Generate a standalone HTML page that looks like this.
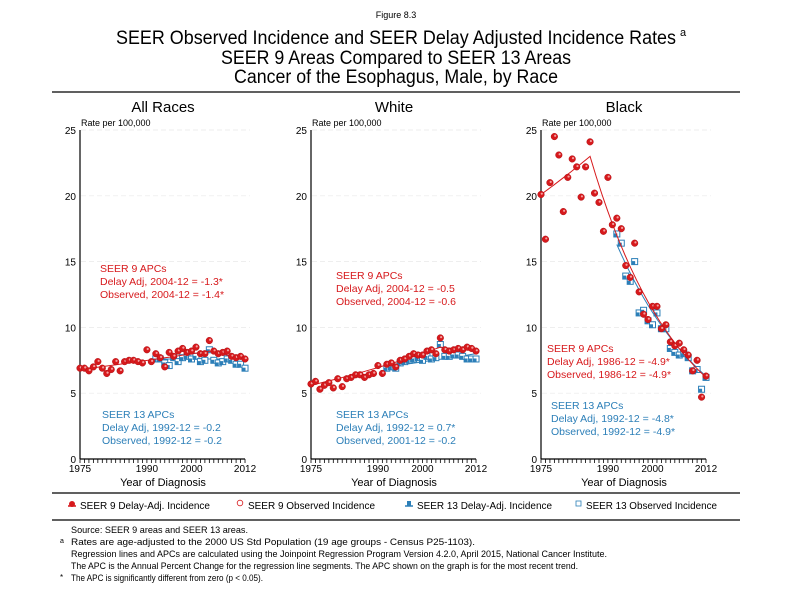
<!DOCTYPE html>
<html><head><meta charset="utf-8"><style>
body{margin:0;background:#fff}
svg{display:block;font-family:"Liberation Sans",Arial,sans-serif}
</style></head><body>
<svg id="s" width="792" height="612" viewBox="0 0 792 612" xmlns="http://www.w3.org/2000/svg">
<rect width="792" height="612" fill="#fff"/>
<text x="396" y="18" font-size="9" text-anchor="middle">Figure 8.3</text>
<text x="396" y="44" font-size="19" text-anchor="middle" textLength="560" lengthAdjust="spacingAndGlyphs">SEER Observed Incidence and SEER Delay Adjusted Incidence Rates</text>
<text x="680" y="36" font-size="11">a</text>
<text x="396" y="64" font-size="19" text-anchor="middle" textLength="350" lengthAdjust="spacingAndGlyphs">SEER 9 Areas Compared to SEER 13 Areas</text>
<text x="396" y="83" font-size="19" text-anchor="middle" textLength="324" lengthAdjust="spacingAndGlyphs">Cancer of the Esophagus, Male, by Race</text>
<line x1="52" y1="92" x2="740" y2="92" stroke="#000" stroke-width="1.2"/>
<g id="panels"></g>
<line x1="52" y1="493" x2="740" y2="493" stroke="#000" stroke-width="1.2"/>
<line x1="52" y1="520" x2="740" y2="520" stroke="#000" stroke-width="1.2"/>
<g font-size="10">
<line x1="68" y1="506" x2="76" y2="506" stroke="#d7191c" stroke-width="1.5"/><circle cx="72" cy="504" r="3" fill="#d7191c"/>
<text x="80" y="509" textLength="130" lengthAdjust="spacingAndGlyphs">SEER 9 Delay-Adj. Incidence</text>
<circle cx="240" cy="503" r="2.8" fill="none" stroke="#d7191c" stroke-width="0.8"/>
<text x="248" y="509" textLength="127" lengthAdjust="spacingAndGlyphs">SEER 9 Observed Incidence</text>
<line x1="405" y1="506" x2="413" y2="506" stroke="#2c7fb8" stroke-width="1.5"/><rect x="407" y="501" width="4" height="5" fill="#2c7fb8"/>
<text x="417" y="509" textLength="135" lengthAdjust="spacingAndGlyphs">SEER 13 Delay-Adj. Incidence</text>
<rect x="576" y="501" width="5" height="5" fill="none" stroke="#2c7fb8" stroke-width="0.8"/>
<text x="586" y="509" textLength="131" lengthAdjust="spacingAndGlyphs">SEER 13 Observed Incidence</text>
</g>
<g font-size="9.5">
<text x="71" y="533" textLength="177" lengthAdjust="spacingAndGlyphs">Source: SEER 9 areas and SEER 13 areas.</text>
<text x="60" y="543" font-size="7">a</text>
<text x="71" y="545" textLength="404" lengthAdjust="spacingAndGlyphs">Rates are age-adjusted to the 2000 US Std Population (19 age groups - Census P25-1103).</text>
<text x="71" y="557" textLength="536" lengthAdjust="spacingAndGlyphs">Regression lines and APCs are calculated using the Joinpoint Regression Program Version 4.2.0, April 2015, National Cancer Institute.</text>
<text x="71" y="569" textLength="507" lengthAdjust="spacingAndGlyphs">The APC is the Annual Percent Change for the regression line segments. The APC shown on the graph is for the most recent trend.</text>
<text x="60" y="580" font-size="8">*</text>
<text x="71" y="581" textLength="192" lengthAdjust="spacingAndGlyphs">The APC is significantly different from zero (p &lt; 0.05).</text>
</g>
</svg>
<script>
const NS="http://www.w3.org/2000/svg";
const R="#d7191c",B="#2c7fb8";
const P=[
{ax:80,title:"All Races",
 r:[6.9,6.9,6.7,7.0,7.4,6.9,6.5,6.8,7.4,6.7,7.4,7.5,7.5,7.4,7.3,8.3,7.4,8.0,7.7,7.0,8.1,7.8,8.2,8.4,8.1,8.2,8.5,8.0,8.0,9.0,8.2,8.0,8.1,8.2,7.8,7.7,7.8,7.6],
 b:[7.6,7.6,7.3,7.1,7.7,7.4,7.7,7.8,7.6,7.8,7.4,7.5,8.3,7.5,7.3,7.4,7.6,7.5,7.2,7.2,6.9],
 rl:[[1975,6.8],[2004,8.2],[2012,7.6]], bl:[[1992,7.6],[2012,7.6]],
 t9:[100,272,["SEER 9 APCs","Delay Adj, 2004-12 = -1.3*","Observed, 2004-12 = -1.4*"]],
 t13:[102,418,["SEER 13 APCs","Delay Adj, 1992-12 = -0.2","Observed, 1992-12 = -0.2"]]},
{ax:311,title:"White",
 r:[5.7,5.9,5.3,5.6,5.8,5.4,6.1,5.5,6.1,6.2,6.4,6.4,6.2,6.4,6.5,7.1,6.5,7.2,7.3,7.0,7.5,7.6,7.8,8.0,7.9,7.9,8.2,8.3,8.0,9.2,8.3,8.2,8.3,8.4,8.3,8.5,8.4,8.2],
 b:[6.9,7.0,6.9,7.3,7.4,7.5,7.6,7.7,7.5,7.8,7.6,7.7,8.7,7.8,7.8,7.9,7.9,7.8,7.6,7.6,7.6],
 rl:[[1975,5.6],[2004,8.5],[2012,8.2]], bl:[[1992,7.0],[2012,8.0]],
 t9:[336,279,["SEER 9 APCs","Delay Adj, 2004-12 = -0.5","Observed, 2004-12 = -0.6"]],
 t13:[336,418,["SEER 13 APCs","Delay Adj, 1992-12 = 0.7*","Observed, 2001-12 = -0.2"]]},
{ax:541,title:"Black",
 r:[20.1,16.7,21.0,24.5,23.1,18.8,21.4,22.8,22.2,19.9,22.2,24.1,20.2,19.5,17.3,21.4,17.8,18.3,17.5,14.7,13.8,16.4,12.7,11.0,10.6,11.6,11.6,9.9,10.2,8.9,8.6,8.8,8.3,7.9,6.7,7.5,4.7,6.3],
 b:[17.1,16.4,13.9,13.5,15.0,11.1,11.3,10.5,10.2,11.1,9.9,9.9,8.4,8.1,7.9,8.0,7.7,6.7,6.8,5.3,6.2],
 rl:[[1975,20.1],[1986,23.0],[2012,6.2]], bl:[[1992,16.3],[2012,6.3]],
 t9:[547,352,["SEER 9 APCs","Delay Adj, 1986-12 = -4.9*","Observed, 1986-12 = -4.9*"]],
 t13:[551,409,["SEER 13 APCs","Delay Adj, 1992-12 = -4.8*","Observed, 1992-12 = -4.9*"]]}
];
const g=document.getElementById("panels");
function el(t,a,txt){const e=document.createElementNS(NS,t);for(const k in a)e.setAttribute(k,a[k]);if(txt!==undefined)e.textContent=txt;g.appendChild(e);return e;}
const Y0=459,SY=329/25,SX=4.46;
function curve(pts,X,Y){const out=[];for(let i=0;i<pts.length-1;i++){const [a,va]=pts[i],[b,vb]=pts[i+1];for(let k=0;k<=20;k++){const t=k/20;const yr=a+(b-a)*t;const v=va*Math.pow(vb/va,t);out.push(X(yr).toFixed(2)+","+Y(v).toFixed(2));}}return out.join(" ");}
P.forEach(p=>{
 const X=yr=>p.ax+(yr-1975)*SX, Y=v=>Y0-v*SY;
 el("text",{x:p.ax+83,y:112,"font-size":15,"text-anchor":"middle"},p.title);
 el("text",{x:p.ax+1,y:126,"font-size":9},"Rate per 100,000");
 for(let v=0;v<=25;v+=5){
  if(v>0) el("line",{x1:p.ax+1,x2:p.ax+170,y1:Y(v),y2:Y(v),stroke:"#e8e8e8","stroke-width":0.7,"stroke-dasharray":"5,3"});
  el("text",{x:p.ax-4,y:Y(v)+4,"font-size":10,"text-anchor":"end"},v);
 }
 el("line",{x1:p.ax,x2:p.ax,y1:Y(25),y2:Y0,stroke:"#000","stroke-width":1.2});
 el("line",{x1:p.ax,x2:X(2012),y1:Y0,y2:Y0,stroke:"#000","stroke-width":1.2});
 for(let yr=1975;yr<=2012;yr++) el("line",{x1:X(yr),x2:X(yr),y1:Y0,y2:Y0+4,stroke:"#000","stroke-width":0.8});
 [1975,1990,2000,2012].forEach(yr=>el("text",{x:X(yr),y:Y0+13,"font-size":10,"text-anchor":"middle"},yr));
 el("text",{x:p.ax+83,y:Y0+27,"font-size":11,"text-anchor":"middle"},"Year of Diagnosis");
 el("polyline",{points:curve(p.bl,X,Y),fill:"none",stroke:B,"stroke-width":1});
 p.b.forEach((v,i)=>{const x=X(1992+i),y=Y(v);
  el("rect",{x:x-3,y:y-3,width:6,height:6,fill:"#fff",stroke:B,"stroke-width":1});
  el("rect",{x:x-3,y:y-0.5,width:3.5,height:3.5,fill:B});});
 el("polyline",{points:curve(p.rl,X,Y),fill:"none",stroke:R,"stroke-width":1});
 p.r.forEach((v,i)=>{const x=X(1975+i),y=Y(v);
  el("circle",{cx:x,cy:y,r:3.3,fill:R,stroke:"#b01015","stroke-width":0.5});
  el("circle",{cx:x+0.8,cy:y-0.8,r:1.1,fill:"#f3a0a0"});});
 [[p.t9,R],[p.t13,B]].forEach(([t,c])=>t[2].forEach((s,i)=>el("text",{x:t[0],y:t[1]+i*13,"font-size":10.5,fill:c},s)));
});
</script>
</body></html>
